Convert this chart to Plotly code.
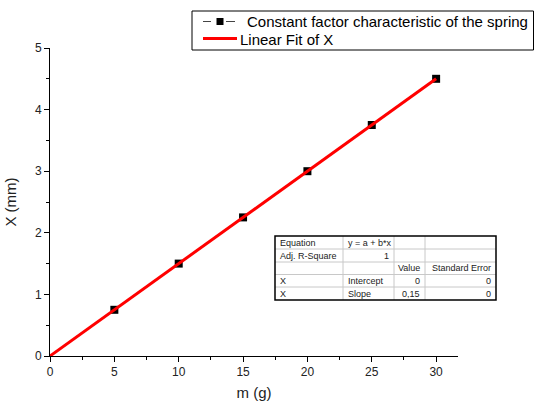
import plotly.graph_objects as go

# ---- data ----
m_g = [5, 10, 15, 20, 25, 30]
x_mm = [0.75, 1.5, 2.25, 3.0, 3.75, 4.5]
fit_intercept = 0.0
fit_slope = 0.15
fit_range = [0, 30]

series_names = ["Constant factor characteristic of the spring", "Linear Fit of X"]

table_rows = [
    ["Equation", "y = a + b*x", "", ""],
    ["Adj. R-Square", "1", "", ""],
    ["", "", "Value", "Standard Error"],
    ["X", "Intercept", "0", "0"],
    ["X", "Slope", "0,15", "0"],
]
table_align = [
    ["left", "left", "left", "left"],
    ["left", "right", "left", "left"],
    ["left", "left", "right", "right"],
    ["left", "left", "right", "right"],
    ["left", "left", "right", "right"],
]

# ---- layout geometry (pixels); page body margin is removed below ----
W, H = 536, 401
L, T = 50, 48
R = W - 458
B = H - 356
pw, ph = W - L - R, H - T - B

def px_x(px):
    return (px - L) / pw

def px_y(py):
    return (H - B - py) / ph

fit_y = [fit_intercept + fit_slope * v for v in fit_range]

fig = go.Figure()
fig.add_trace(go.Scatter(
    x=m_g, y=x_mm, mode="lines+markers", name=series_names[0],
    line=dict(color="black", width=1),
    marker=dict(symbol="square", size=8, color="black"),
))
fig.add_trace(go.Scatter(
    x=fit_range, y=fit_y, mode="lines", name=series_names[1],
    line=dict(color="red", width=3),
))

shapes = []
annotations = []

def pline(x0, y0, x1, y1, color, width):
    shapes.append(dict(type="line", xref="paper", yref="paper",
                       x0=px_x(x0), x1=px_x(x1), y0=px_y(y0), y1=px_y(y1),
                       line=dict(color=color, width=width)))

# ---- legend box (drawn like the original software's legend) ----
shapes.append(dict(type="rect", xref="paper", yref="paper",
                   x0=px_x(192), x1=px_x(533.5), y0=px_y(50), y1=px_y(11),
                   line=dict(color="black", width=1), fillcolor="white"))
pline(203, 21.5, 211, 21.5, "#444", 1)
pline(226, 21.5, 235, 21.5, "#444", 1)
shapes.append(dict(type="rect", xref="paper", yref="paper",
                   x0=px_x(216.5), x1=px_x(223.5), y0=px_y(25), y1=px_y(18),
                   line=dict(color="black", width=0), fillcolor="black"))
pline(203, 38.5, 237, 38.5, "red", 3)
annotations.append(dict(text=series_names[0], xref="paper", yref="paper",
                        x=px_x(244.5), y=px_y(22), xanchor="left", yanchor="middle",
                        showarrow=False, font=dict(size=15, color="black")))
annotations.append(dict(text=series_names[1], xref="paper", yref="paper",
                        x=px_x(238), y=px_y(39.5), xanchor="left", yanchor="middle",
                        showarrow=False, font=dict(size=15, color="black")))

# ---- fit table ----
col_px = [275, 343, 394, 425, 496]
row_px = [236, 249, 262, 274.5, 287, 300]
for cx in col_px[1:-1]:
    pline(cx, row_px[0], cx, row_px[-1], "#c8c8c8", 1)
for ry in row_px[1:-1]:
    pline(col_px[0], ry, col_px[-1], ry, "#c8c8c8", 1)
shapes.append(dict(type="rect", xref="paper", yref="paper",
                   x0=px_x(col_px[0]), x1=px_x(col_px[-1]),
                   y0=px_y(row_px[-1]), y1=px_y(row_px[0]),
                   line=dict(color="black", width=1.5), fillcolor="rgba(0,0,0,0)"))

for i, row in enumerate(table_rows):
    ymid = (row_px[i] + row_px[i + 1]) / 2
    for j, txt in enumerate(row):
        if not txt:
            continue
        if table_align[i][j] == "left":
            xx, xa = px_x(col_px[j] + 3), "left"
        else:
            xx, xa = px_x(col_px[j + 1] - 3), "right"
        annotations.append(dict(text=txt, xref="paper", yref="paper", x=xx, y=px_y(ymid),
                                xanchor=xa, yanchor="middle", showarrow=False,
                                font=dict(size=9, color="#222")))

fig.update_layout(
    width=W, height=H,
    margin=dict(l=L, r=R, t=T, b=B, autoexpand=False),
    paper_bgcolor="white", plot_bgcolor="white",
    font=dict(family="Liberation Sans, Arial", color="#222"),
    showlegend=False,
    xaxis=dict(range=[0, 31.7], tickmode="array", tickvals=[0, 5, 10, 15, 20, 25, 30],
               showgrid=False, zeroline=False, showline=True, linecolor="black", linewidth=1,
               ticks="outside", ticklen=5, tickcolor="black", tickfont=dict(size=12),
               minor=dict(tickvals=[2.5, 7.5, 12.5, 17.5, 22.5, 27.5], ticks="outside",
                          ticklen=3, tickcolor="black"),
               title=dict(text="m (g)", font=dict(size=15), standoff=12)),
    yaxis=dict(range=[0, 5], tickmode="array", tickvals=[0, 1, 2, 3, 4, 5],
               showgrid=False, zeroline=False, showline=True, linecolor="black", linewidth=1,
               ticks="outside", ticklen=5, tickcolor="black", tickfont=dict(size=12),
               minor=dict(tickvals=[0.5, 1.5, 2.5, 3.5, 4.5], ticks="outside",
                          ticklen=3, tickcolor="black"),
               title=dict(text="X (mm)", font=dict(size=15), standoff=14)),
    shapes=shapes,
    annotations=annotations,
)

fig.write_html(
    "out.html",
    config={"displayModeBar": False},
    post_script="document.body.style.margin='0';document.body.style.overflow='hidden';",
)
